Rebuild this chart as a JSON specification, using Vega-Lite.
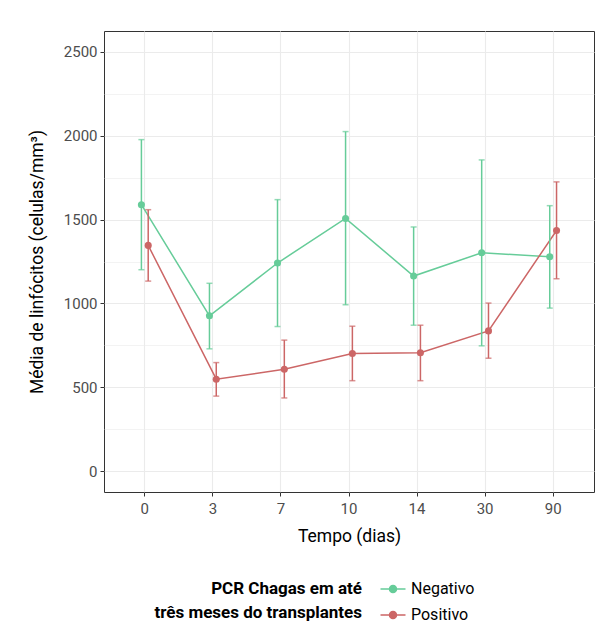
{
  "$schema": "https://vega.github.io/schema/vega-lite/v6.json",
  "autosize": "none",
  "width": 490,
  "height": 461,
  "padding": {"left": 104, "top": 31, "right": 11, "bottom": 143},
  "background": "white",
  "data": {
    "values": [
      {"tempo": "0", "pcr": "Negativo", "media": 1589, "lower": 1201, "upper": 1977},
      {"tempo": "3", "pcr": "Negativo", "media": 926, "lower": 729, "upper": 1120},
      {"tempo": "7", "pcr": "Negativo", "media": 1241, "lower": 862, "upper": 1619},
      {"tempo": "10", "pcr": "Negativo", "media": 1507, "lower": 992, "upper": 2025},
      {"tempo": "14", "pcr": "Negativo", "media": 1163, "lower": 870, "upper": 1456},
      {"tempo": "30", "pcr": "Negativo", "media": 1302, "lower": 747, "upper": 1856},
      {"tempo": "90", "pcr": "Negativo", "media": 1278, "lower": 972, "upper": 1583},
      {"tempo": "0", "pcr": "Positivo", "media": 1346, "lower": 1133, "upper": 1559},
      {"tempo": "3", "pcr": "Positivo", "media": 548, "lower": 447, "upper": 647},
      {"tempo": "7", "pcr": "Positivo", "media": 607, "lower": 436, "upper": 781},
      {"tempo": "10", "pcr": "Positivo", "media": 701, "lower": 539, "upper": 864},
      {"tempo": "14", "pcr": "Positivo", "media": 706, "lower": 539, "upper": 870},
      {"tempo": "30", "pcr": "Positivo", "media": 836, "lower": 673, "upper": 1002},
      {"tempo": "90", "pcr": "Positivo", "media": 1435, "lower": 1147, "upper": 1725}
    ]
  },
  "encoding": {
    "x": {
      "field": "tempo",
      "type": "ordinal",
      "sort": ["0", "3", "7", "10", "14", "30", "90"],
      "scale": {"type": "band", "paddingInner": 0, "paddingOuter": 0.1},
      "axis": {
        "title": "Tempo (dias)",
        "labelAngle": 0,
        "bandPosition": 0.5,
        "grid": true,
        "gridColor": "#EBEBEB",
        "gridWidth": 1.1,
        "domain": false,
        "tickColor": "#333333",
        "tickSize": 4,
        "labelPadding": 5,
        "titlePadding": 11
      }
    },
    "xOffset": {
      "field": "pcr",
      "type": "nominal",
      "scale": {"type": "point", "padding": 0, "range": [30.6, 37.4]}
    },
    "color": {
      "field": "pcr",
      "type": "nominal",
      "scale": {"domain": ["Negativo", "Positivo"], "range": ["#66CC99", "#CC6666"]},
      "legend": {
        "title": ["PCR Chagas em até", "três meses do transplantes"],
        "orient": "none",
        "legendX": 50,
        "legendY": 547,
        "direction": "vertical",
        "titleOrient": "left",
        "titleAlign": "right",
        "titleFont": "Roboto",
        "titleFontWeight": "bold",
        "titleFontSize": 17,
        "titleColor": "#000000",
        "titleLineHeight": 24,
        "titlePadding": -188,
        "titleLimit": 210,
        "labelFont": "Roboto",
        "labelFontSize": 16,
        "labelColor": "#000000",
        "labelOffset": 7,
        "labelLimit": 200,
        "symbolType": "M-1.25,0H1.25M0.35,0A0.35,0.35,0,1,1,-0.35,0A0.35,0.35,0,1,1,0.35,0Z",
        "symbolSize": 400,
        "symbolStrokeWidth": 1.5,
        "symbolOpacity": 1,
        "rowPadding": 7
      }
    }
  },
  "layer": [
    {
      "mark": {"type": "line", "strokeWidth": 1.5},
      "encoding": {
        "y": {
          "field": "media",
          "type": "quantitative",
          "scale": {"domain": [-125, 2625], "nice": false, "zero": false},
          "axis": {
            "title": "Média de linfócitos (celulas/mm³)",
            "values": [0, 250, 500, 750, 1000, 1250, 1500, 1750, 2000, 2250, 2500],
            "labelExpr": "datum.value % 500 === 0 ? datum.label : ''",
            "format": "d",
            "grid": true,
            "gridColor": "#EBEBEB",
            "gridWidth": {"condition": {"test": "datum.value % 500 === 0", "value": 1.1}, "value": 0.6},
            "tickOpacity": {"condition": {"test": "datum.value % 500 === 0", "value": 1}, "value": 0},
            "tickColor": "#333333",
            "tickSize": 4,
            "domain": false,
            "labelPadding": 3,
            "titlePadding": 17
          }
        }
      }
    },
    {
      "mark": {"type": "rule", "strokeWidth": 1.5},
      "encoding": {
        "y": {"field": "lower", "type": "quantitative"},
        "y2": {"field": "upper"}
      }
    },
    {
      "mark": {"type": "tick", "size": 6, "thickness": 1.5},
      "encoding": {"y": {"field": "lower", "type": "quantitative"}}
    },
    {
      "mark": {"type": "tick", "size": 6, "thickness": 1.5},
      "encoding": {"y": {"field": "upper", "type": "quantitative"}}
    },
    {
      "mark": {"type": "point", "filled": true, "size": 50, "opacity": 1},
      "encoding": {"y": {"field": "media", "type": "quantitative"}}
    }
  ],
  "config": {
    "font": "Roboto",
    "view": {"stroke": "#333333", "strokeWidth": 1},
    "axis": {
      "labelFont": "Roboto",
      "labelFontSize": 15,
      "labelColor": "#4D4D4D",
      "titleFont": "Roboto",
      "titleFontSize": 17.5,
      "titleFontWeight": "normal",
      "titleColor": "#000000"
    }
  }
}
